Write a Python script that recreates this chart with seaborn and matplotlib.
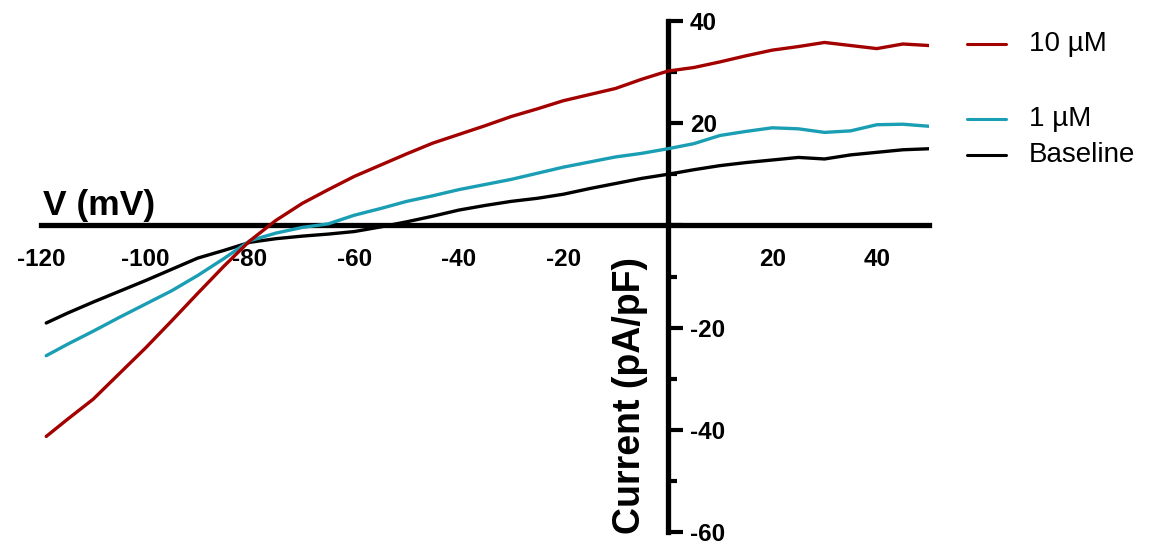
"""I-V curves: baseline vs 1 uM vs 10 uM, axes crossing at the origin."""

import numpy as np
import pandas as pd
import matplotlib as mpl
mpl.use("Agg")
import matplotlib.pyplot as plt
from matplotlib.lines import Line2D
from matplotlib.ticker import MultipleLocator, FixedLocator, FuncFormatter
import seaborn as sns

# ── data ──────────────────────────────────────────────────────────────────────
voltage = [-119, -115, -110, -105, -100, -95, -90, -85, -80, -75, -70, -65,
           -60, -55, -50, -45, -40, -35, -30, -25, -20, -15, -10, -5,
           0, 5, 10, 15, 20, 25, 30, 35, 40, 45, 50]

baseline = [-19.1, -17.2, -15.0, -12.9, -10.8, -8.6, -6.4, -4.9, -3.3, -2.6,
            -2.1, -1.7, -1.2, -0.3, 0.7, 1.8, 3.0, 3.9, 4.7, 5.3, 6.1, 7.2,
            8.2, 9.2, 10.0, 10.9, 11.7, 12.3, 12.8, 13.3, 13.0, 13.8, 14.3,
            14.8, 15.0]

dose_1um = [-25.5, -23.3, -20.7, -18.0, -15.4, -12.8, -9.8, -6.5, -3.0, -1.5,
            -0.4, 0.3, 2.0, 3.3, 4.7, 5.8, 7.0, 8.0, 9.0, 10.2, 11.4, 12.4,
            13.4, 14.1, 15.0, 16.0, 17.6, 18.4, 19.1, 18.9, 18.2, 18.5, 19.7,
            19.8, 19.4]

dose_10um = [-41.3, -38.0, -34.0, -29.0, -24.0, -18.7, -13.3, -8.0, -3.0, 1.0,
             4.3, 7.0, 9.6, 11.8, 14.0, 16.1, 17.8, 19.5, 21.3, 22.8, 24.4,
             25.6, 26.8, 28.6, 30.2, 30.9, 32.0, 33.2, 34.3, 35.0, 35.8, 35.2,
             34.6, 35.5, 35.2]

conditions = ["Baseline", "1 µM", "10 µM"]
legend_order = ["10 µM", "1 µM", "Baseline"]

COLORS = {"Baseline": "#000000", "1 µM": "#1a9eb4", "10 µM": "#a30000"}

df = pd.concat([
    pd.DataFrame({"V": voltage, "I": vals, "condition": name})
    for name, vals in zip(conditions, [baseline, dose_1um, dose_10um])
], ignore_index=True)

# ── style ─────────────────────────────────────────────────────────────────────
sns.set_style("white")
plt.rcParams.update({
    "font.family": ["Liberation Sans", "DejaVu Sans"],
    "text.color": "black",
    "axes.edgecolor": "black",
    "xtick.color": "black",
    "ytick.color": "black",
})

fig = plt.figure(figsize=(11.49, 5.44), dpi=100)
ax = fig.add_axes([41 / 1149, 1 - 532 / 544, (929 - 41) / 1149, (532 - 21) / 544])

sns.lineplot(data=df, x="V", y="I", hue="condition", hue_order=conditions,
             palette=COLORS, linewidth=2.4, legend=False, ax=ax, sort=False)

ax.set_xlim(-120, 50)
ax.set_ylim(-60, 40)
ax.set_xlabel("")
ax.set_ylabel("")

# spines through the origin
SPINE_W = 3.8
ax.spines["left"].set_visible(False)
ax.spines["top"].set_visible(False)
ax.spines["bottom"].set_position(("data", 0))
ax.spines["right"].set_position(("data", 0))
for side in ("bottom", "right"):
    ax.spines[side].set_linewidth(SPINE_W)
    ax.spines[side].set_color("black")
    ax.spines[side].set_zorder(1)
ax.yaxis.tick_right()

ax.xaxis.set_major_locator(MultipleLocator(20))
ax.xaxis.set_minor_locator(MultipleLocator(10))
ax.yaxis.set_major_locator(MultipleLocator(20))
ax.yaxis.set_minor_locator(FixedLocator([30, 10, -10, -30, -50]))
hide_zero = FuncFormatter(lambda v, _: "" if abs(v) < 1e-9 else f"{v:.0f}")
ax.xaxis.set_major_formatter(hide_zero)
ax.yaxis.set_major_formatter(hide_zero)

ax.tick_params(axis="both", which="major", direction="out", length=11,
               width=3.0, labelsize=17.5, pad=5)
ax.tick_params(axis="both", which="minor", direction="out", length=6.5,
               width=3.0)
for lab in ax.get_xticklabels() + ax.get_yticklabels():
    lab.set_fontweight("bold")

ax.text(-119.6, 2.1, "V (mV)", fontsize=25.5, fontweight="bold",
        ha="left", va="baseline")
ax.text(-7.3, -33.2, "Current (pA/pF)", fontsize=27, fontweight="bold",
        rotation=90, ha="center", va="center")

# legend drawn by hand, uneven spacing as in the reference
legend_y = {"10 µM": 1 - 44 / 544, "1 µM": 1 - 119 / 544, "Baseline": 1 - 155 / 544}
for name in legend_order:
    y = legend_y[name]
    fig.add_artist(Line2D([967 / 1149, 1006 / 1149], [y, y],
                          color=COLORS[name], linewidth=2.2))
    fig.text(1029 / 1149, y, name, fontsize=20, ha="left", va="center")

fig.savefig("out.png", dpi=100)
